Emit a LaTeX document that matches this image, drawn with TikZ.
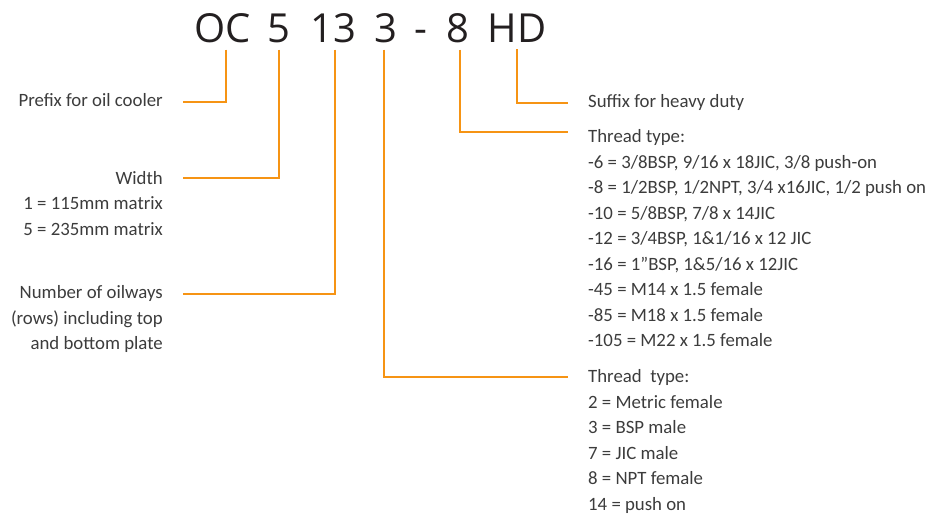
\documentclass[tikz,border=0pt]{standalone}
\usepackage{fontspec}
\setmainfont{Carlito}
\newfontfamily\headfont{Open Sans}
\definecolor{orng}{RGB}{246,148,20}
\definecolor{txt}{RGB}{60,60,60}
\definecolor{head}{RGB}{35,31,32}
\begin{document}
\begin{tikzpicture}[x=1pt,y=-1pt,
  conn/.style={draw=orng,line width=2.8pt},
  code/.style={font=\headfont\fontsize{40}{48}\selectfont, text=head, inner sep=0pt, anchor=base},
  lbl/.style={font=\fontsize{18.8}{25.55}\selectfont, text=txt, inner sep=0pt}]
\useasboundingbox (0,0) rectangle (938,514);
% code characters
\node[code] (oc)   at (223,42.5) {OC};
\node[code] (c5)   at (279,42.5) {5};
\node[code] (c13)  at (333,42.5) {13};
\node[code] (c3)   at (386,42.5) {3};
\node[code] (dash) at (421,42.5) {-};
\node[code] (c8)   at (458,42.5) {8};
\node[code] (hd)   at (517,42.5) {HD};
% left labels
\node[lbl,anchor=north east,align=right] (prefix) at (163,88.8) {\strut Prefix for oil cooler};
\node[lbl,anchor=north east,align=right] (width) at (163,166.1) {\strut Width\\1 = 115mm matrix\\5 = 235mm matrix};
\node[lbl,anchor=north east,align=right] (number) at (163,280.4) {\strut Number of oilways\\(rows) including top\\and bottom plate};
% right labels
\node[lbl,anchor=north west,align=left] (suffix) at (588,89.8) {\strut Suffix for heavy duty};
\node[lbl,anchor=north west,align=left] (size) at (588,124.4) {\strut Thread type:\\-6 = 3/8BSP, 9/16 x 18JIC, 3/8 push-on\\-8 = 1/2BSP, 1/2NPT, 3/4 x16JIC, 1/2 push on\\-10 = 5/8BSP, 7/8 x 14JIC\\-12 = 3/4BSP, 1\&1/16 x 12 JIC\\-16 = 1”BSP, 1\&5/16 x 12JIC\\-45 = M14 x 1.5 female\\-85 = M18 x 1.5 female\\-105 = M22 x 1.5 female};
\node[lbl,anchor=north west,align=left] (thread) at (588,364.4) {\strut Thread~ type:\\2 = Metric female\\3 = BSP male\\7 = JIC male\\8 = NPT female\\14 = push on};
% connectors
\draw[conn] ([xshift=3pt,yshift=-6.5pt]oc.south) |- ([xshift=20pt,yshift=-13.2pt]prefix.north east);
\draw[conn] ([yshift=-6.5pt]c5.south) |- ([xshift=20pt,yshift=-11.9pt]width.north east);
\draw[conn] ([xshift=2pt,yshift=-6.5pt]c13.south) |- ([xshift=20pt,yshift=-13.6pt]number.north east);
\draw[conn] ([xshift=-2pt,yshift=-6.5pt]c3.south) |- ([xshift=-20pt,yshift=-12.6pt]thread.north west);
\draw[conn] ([xshift=2pt,yshift=-6.5pt]c8.south) |- ([xshift=-20pt,yshift=-7.6pt]size.north west);
\draw[conn] ([yshift=-6.5pt]hd.south) |- ([xshift=-20pt,yshift=-13.2pt]suffix.north west);
\end{tikzpicture}
\end{document}
